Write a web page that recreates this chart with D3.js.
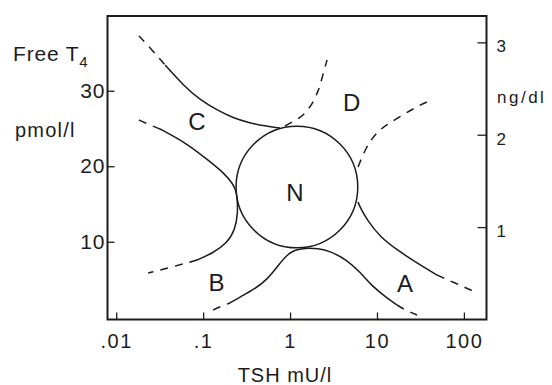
<!DOCTYPE html>
<html>
<head>
<meta charset="utf-8">
<script src="https://cdn.jsdelivr.net/npm/d3@7"></script>
<style>
  html, body { margin: 0; padding: 0; background: #fff; }
  svg { display: block; }
  text { font-family: "Liberation Sans", Arial, Helvetica, sans-serif; fill: #1c1c1c; }
</style>
</head>
<body>
<svg id="chart" width="552" height="385"></svg>
<script>
// ---------- data (TSH in mU/l, Free T4 in pmol/l) ----------
const xTicks = [0.01, 0.1, 1, 10, 100];
const xTickLabels = [".01", ".1", "1", "10", "100"];
const leftTicks = [10, 20, 30];
const rightTicks = [1, 2, 3];

// Normal region N: centre and radius (radius in decades of TSH)
const normalCentre = [1.2, 17.25];
const normalRadiusDecades = 0.70;

// C upper boundary
const cUpperDashed = [[0.0183, 37.25], [0.0259, 35.40], [0.0365, 33.41]];
const cUpperSolid  = [[0.0365, 33.41], [0.0588, 30.76], [0.0922, 28.77], [0.1446, 27.45],
                      [0.221, 26.39], [0.3465, 25.73], [0.515, 25.33], [0.767, 25.06]];
// D left boundary
const dLeftDashed  = [[0.876, 25.33], [1.054, 25.86], [1.301, 26.39], [1.528, 27.18],
                      [1.791, 28.24], [1.991, 29.30], [2.214, 30.63], [2.397, 32.22], [2.665, 34.07]];
// D right boundary
const dRightDashed = [[6.06, 19.90], [7.49, 22.55], [9.75, 24.40], [12.71, 25.46],
                      [19.94, 26.79], [28.13, 27.85], [41.86, 28.77]];
// C lower boundary
const cLowerDashed = [[0.0183, 26.12], [0.0245, 25.46], [0.0320, 24.93]];
const cLowerSolid  = [[0.0320, 24.93], [0.0451, 24.00], [0.0653, 22.95], [0.114, 20.83],
                      [0.1788, 18.97], [0.2209, 17.65], [0.2393, 16.72], [0.2456, 15.79]];
// B upper boundary
const bUpperSolid  = [[0.2456, 15.79], [0.252, 13.94], [0.233, 11.55], [0.1885, 9.83],
                      [0.1301, 8.51], [0.0851, 7.58]];
const bUpperDashed = [[0.0851, 7.58], [0.0439, 6.65], [0.0233, 5.86]];
// A upper boundary
const aUpperSolid  = [[6.06, 15.26], [6.38, 14.60], [7.69, 12.88], [10.85, 10.63],
                      [17.01, 8.91], [28.9, 7.18], [49.1, 5.59]];
const aUpperDashed = [[49.1, 5.59], [79.1, 4.53], [127.4, 3.47]];
// lower bell (B lower / A lower)
const bellDashedLeft  = [[0.1301, 0.96], [0.1651, 1.49], [0.2041, 1.89]];
const bellSolid       = [[0.2041, 1.89], [0.266, 2.68], [0.3753, 3.61], [0.5436, 4.93],
                         [0.767, 7.18], [0.9236, 8.24], [1.112, 8.91], [1.488, 9.17],
                         [2.099, 9.10], [2.886, 8.77], [4.527, 7.58], [6.387, 5.99],
                         [9.01, 4.00], [13.05, 2.55], [17.01, 1.62]];
const bellDashedRight = [[17.01, 1.62], [22.18, 0.83], [28.9, 0.30]];

const regionNames = ["C", "D", "N", "B", "A"];
const regionTSH   = [0.0851, 5.10, 1.14, 0.1427, 21.0];
const regionFT4   = [25.99, 28.44, 16.59, 4.67, 4.47];

// ---------- layout ----------
const plotLeft = 107.5, plotRight = 486.5, plotTop = 16, plotBottom = 319.5;
const svg = d3.select("#chart");
const ink = "#1c1c1c";

const x = d3.scaleLog().domain([Math.pow(10, -2.1), Math.pow(10, 2.26)]).range([plotLeft, plotRight]);
const y = d3.scaleLinear().domain([-0.3, 39.9]).range([plotBottom, plotTop]);
const yRight = d3.scaleLinear().domain([0, 3.285]).range([plotBottom, plotTop]);

// frame
svg.append("rect")
  .attr("x", plotLeft).attr("y", plotTop)
  .attr("width", plotRight - plotLeft).attr("height", plotBottom - plotTop)
  .attr("fill", "none").attr("stroke", ink).attr("stroke-width", 2);

// bottom axis
const gx = svg.append("g").attr("transform", `translate(0,${plotBottom})`)
  .call(d3.axisBottom(x).tickValues(xTicks)
        .tickFormat((d, i) => xTickLabels[i]).tickSize(-7).tickPadding(14));
gx.select(".domain").remove();
gx.selectAll("line").attr("stroke", ink).attr("stroke-width", 1.3);
gx.selectAll("text").attr("font-size", 20).attr("letter-spacing", 1.5).attr("fill", ink);

// left axis
const gy = svg.append("g").attr("transform", `translate(${plotLeft},0)`)
  .call(d3.axisLeft(y).tickValues(leftTicks).tickFormat(d3.format("d")).tickSize(-7).tickPadding(2));
gy.select(".domain").remove();
gy.selectAll("line").attr("stroke", ink).attr("stroke-width", 1.3);
gy.selectAll("text").attr("font-size", 21).attr("letter-spacing", 1).attr("fill", ink);

// right axis
const gr = svg.append("g").attr("transform", `translate(${plotRight},0)`)
  .call(d3.axisRight(yRight).tickValues(rightTicks).tickFormat(d3.format("d")).tickSize(-9).tickPadding(10));
gr.select(".domain").remove();
gr.selectAll("line").attr("stroke", ink).attr("stroke-width", 1.3);
gr.selectAll("text").attr("font-size", 17).attr("dy", "0.55em").attr("fill", ink);

// axis titles
const ft = svg.append("text").attr("x", 13).attr("y", 61)
  .attr("font-size", 21).attr("letter-spacing", 0.8);
ft.append("tspan").text("Free T");
ft.append("tspan").attr("font-size", 15).attr("dy", 6).text("4");

svg.append("text").attr("x", 15).attr("y", 137)
  .attr("font-size", 20).attr("letter-spacing", 1.2).text("pmol/l");

svg.append("text").attr("x", 497).attr("y", 103)
  .attr("font-size", 17).attr("letter-spacing", 2.5).text("ng/dl");

svg.append("text").attr("x", 285).attr("y", 382)
  .attr("text-anchor", "middle").attr("font-size", 20).attr("letter-spacing", 1)
  .text("TSH mU/l");

// curves
const line = d3.line()
  .x(d => x(d[0])).y(d => y(d[1]))
  .curve(d3.curveBasis);

const solidCurves = [cUpperSolid, cLowerSolid, bUpperSolid, aUpperSolid, bellSolid];
const dashedCurves = [cUpperDashed, dLeftDashed, dRightDashed, cLowerDashed,
                      bUpperDashed, aUpperDashed, bellDashedLeft, bellDashedRight];

svg.append("g").selectAll("path").data(solidCurves).join("path")
  .attr("d", line).attr("fill", "none").attr("stroke", ink).attr("stroke-width", 1.5);

svg.append("g").selectAll("path").data(dashedCurves).join("path")
  .attr("d", line).attr("fill", "none").attr("stroke", ink).attr("stroke-width", 1.5)
  .attr("stroke-dasharray", "8,7");

// normal circle
const cx = x(normalCentre[0]);
const cy = y(normalCentre[1]);
const r = x(normalCentre[0] * Math.pow(10, normalRadiusDecades)) - cx;
svg.append("circle").attr("cx", cx).attr("cy", cy).attr("r", r)
  .attr("fill", "none").attr("stroke", ink).attr("stroke-width", 1.5);

// region labels
svg.append("g").selectAll("text").data(regionNames).join("text")
  .attr("x", (d, i) => x(regionTSH[i]))
  .attr("y", (d, i) => y(regionFT4[i]))
  .attr("dy", "0.36em")
  .attr("text-anchor", "middle")
  .attr("font-size", 24)
  .text(d => d);
</script>
</body>
</html>
